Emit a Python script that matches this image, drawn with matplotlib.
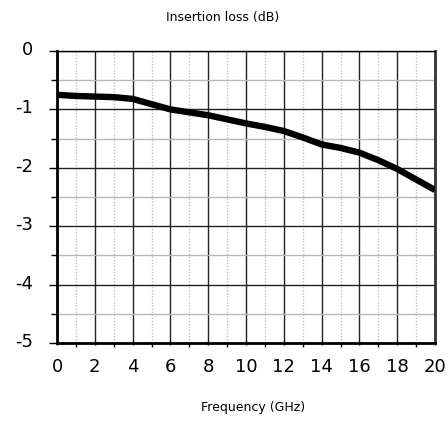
import matplotlib
matplotlib.use('Agg')
import matplotlib.pyplot as plt
import matplotlib.transforms as mtransforms
import numpy as np

# insertion loss, one point per GHz
freq_ghz = [0, 1, 2, 3, 4, 5, 6, 7, 8, 9, 10,
            11, 12, 13, 14, 15, 16, 17, 18, 19, 20]
loss_db = [-0.75, -0.77, -0.78, -0.79, -0.82, -0.91, -1.00, -1.05, -1.10, -1.17, -1.24,
           -1.30, -1.37, -1.48, -1.60, -1.66, -1.74, -1.87, -2.02, -2.20, -2.38]

x_major = np.arange(0, 21, 2)
x_minor = np.arange(1, 20, 2)
y_major = np.arange(-5, 1, 1)
y_minor = np.arange(-4.5, 0, 1)

plt.rcParams['font.family'] = 'DejaVu Sans'

fig = plt.figure(figsize=(4.48, 4.21), dpi=100)
ax = fig.add_axes([57 / 448, 78 / 421, 378 / 448, 292 / 421])

ax.set_xlim(0, 20)
ax.set_ylim(-5, 0)

ax.set_xticks(x_major)
ax.set_xticks(x_minor, minor=True)
ax.set_yticks(y_major)
ax.set_yticks(y_minor, minor=True)
ax.set_yticklabels(['%d' % v for v in y_major])

ax.grid(True, which='major', axis='both', color='#222222', linewidth=1.0)
ax.grid(True, which='minor', axis='y', color='#b8b8b8', linewidth=1.0)
ax.grid(True, which='minor', axis='x', color='#c0c0c0', linewidth=1.0,
        linestyle=(0, (1, 1.2)))
ax.set_axisbelow(True)

ax.plot(freq_ghz, loss_db, color='black', linewidth=4.6,
        solid_capstyle='butt', solid_joinstyle='round', zorder=3)

for side in ['left', 'bottom']:
    ax.spines[side].set_linewidth(2)
    ax.spines[side].set_color('black')
ax.spines['right'].set_linewidth(2)
ax.spines['right'].set_color('#333333')
ax.spines['top'].set_linewidth(1)
ax.spines['top'].set_color('black')

ax.tick_params(axis='y', which='major', length=6, width=1, direction='out',
               labelsize=13, pad=11)
ax.tick_params(axis='y', which='minor', length=4.5, width=1, direction='out')
ax.tick_params(axis='x', which='major', length=3, width=1, direction='inout',
               labelsize=13, pad=9)
ax.tick_params(axis='x', which='minor', length=3, width=1, direction='out')

# labels on the y axis sit a little above their ticks
shift = mtransforms.ScaledTranslation(0, 3 / 100, fig.dpi_scale_trans)
for lab in ax.get_yticklabels():
    lab.set_transform(lab.get_transform() + shift)

fig.text(223 / 448, 1 - 18 / 421, 'Insertion loss (dB)', ha='center', va='center',
         fontsize=9)
fig.text(253 / 448, 1 - 408 / 421, 'Frequency (GHz)', ha='center', va='center',
         fontsize=9)

fig.savefig('out.png', dpi=100)
